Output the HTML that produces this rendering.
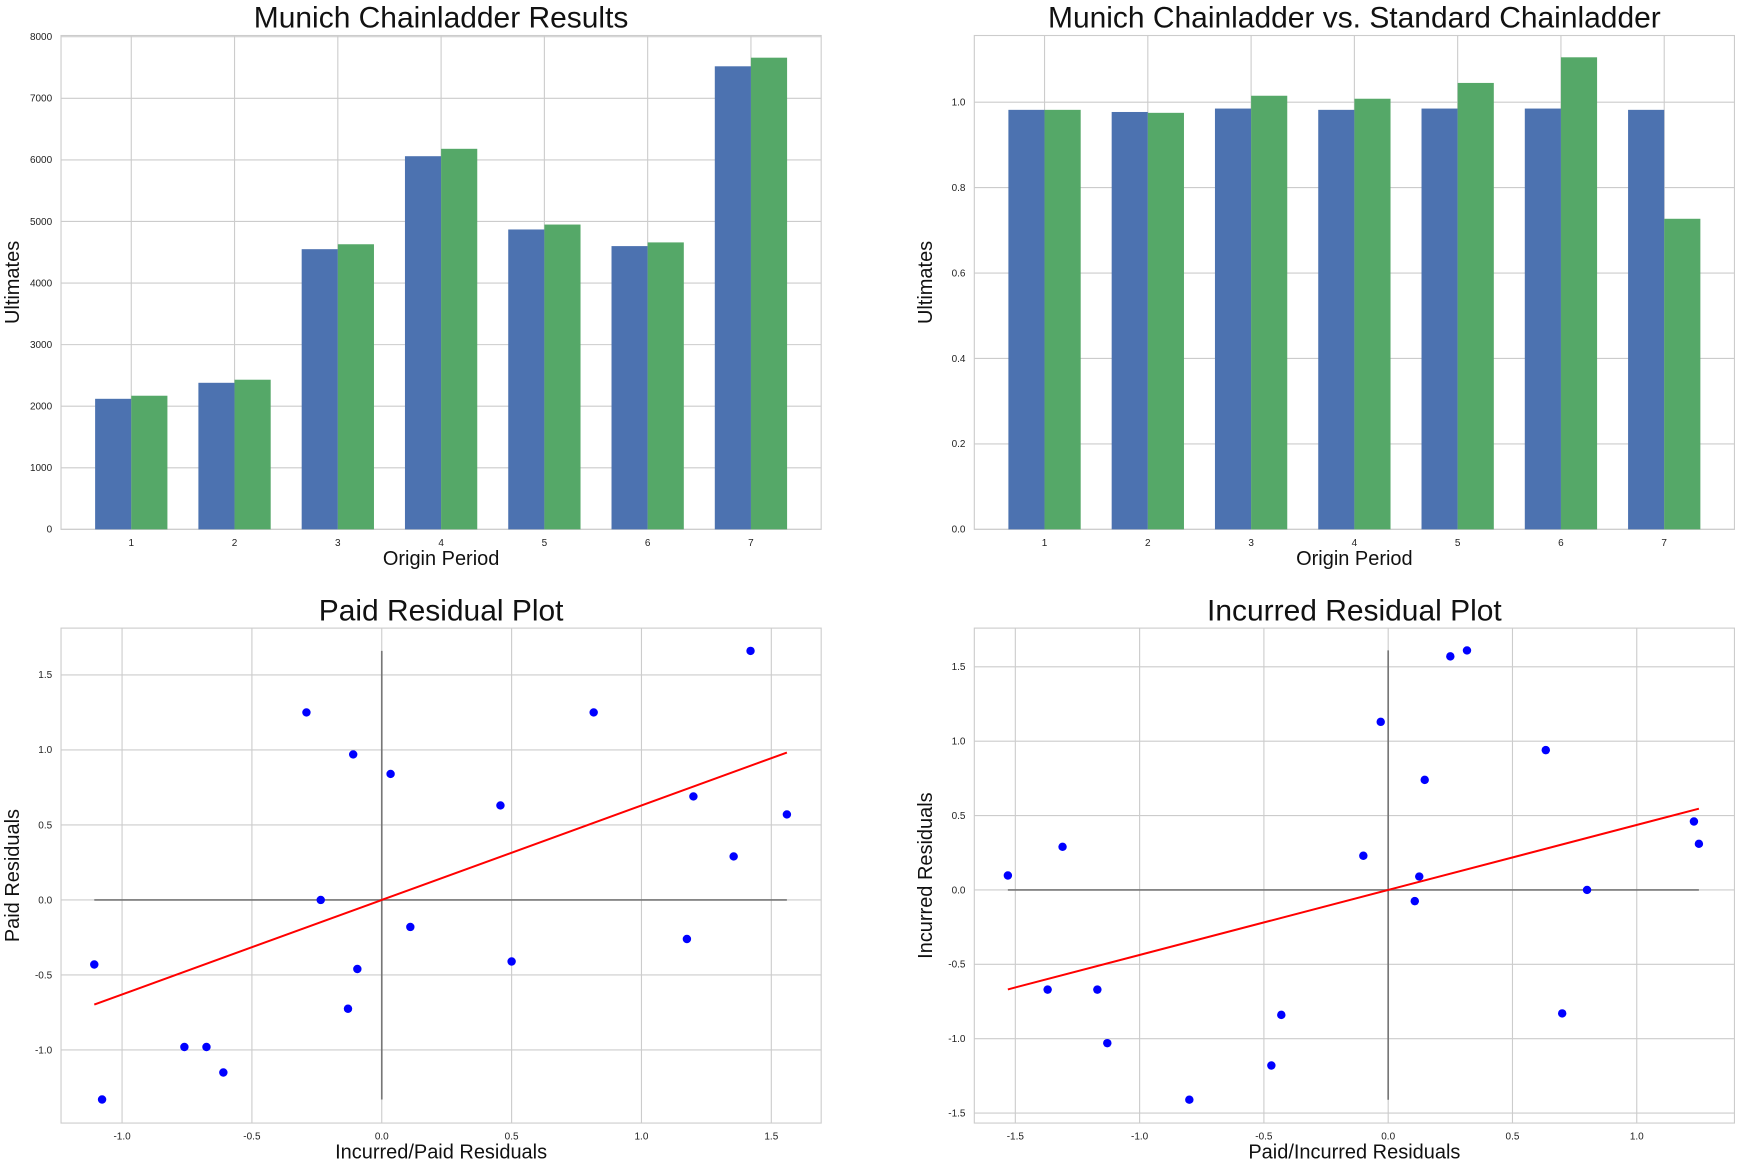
<!DOCTYPE html>
<html><head><meta charset="utf-8"><style>
body{margin:0;background:#fff;}
svg{display:block;font-family:"Liberation Sans",sans-serif;}
</style></head><body>
<svg id="chart" width="1740" height="1168" viewBox="0 0 1568 1052.5" preserveAspectRatio="none"></svg>
<script>
const periods=[1,2,3,4,5,6,7];
const munichUlt=[2120,2380,4550,6060,4870,4600,7520];
const stdUlt=[2170,2430,4630,6180,4950,4660,7660];
const ultTicks=[0,1000,2000,3000,4000,5000,6000,7000,8000];
const munichRatio=[0.982,0.977,0.985,0.982,0.985,0.985,0.982];
const stdRatio=[0.982,0.975,1.015,1.008,1.045,1.105,0.727];
const ratioTicks=[0,0.2,0.4,0.6,0.8,1.0];
const paidX=[-1.107,-1.077,-0.76,-0.675,-0.61,-0.29,-0.235,-0.13,-0.11,-0.094,0.034,0.11,0.457,0.5,0.816,1.175,1.2,1.355,1.42,1.56];
const paidY=[-0.43,-1.33,-0.98,-0.98,-1.15,1.25,0.0,-0.725,0.97,-0.46,0.84,-0.18,0.63,-0.41,1.25,-0.26,0.69,0.29,1.66,0.57];
const paidSlope=0.63;
const paidXTicks=[-1.0,-0.5,0.0,0.5,1.0,1.5];
const paidYTicks=[-1.0,-0.5,0.0,0.5,1.0,1.5];
const incX=[-1.53,-1.37,-1.31,-1.17,-1.13,-0.80,-0.47,-0.43,-0.10,-0.03,0.107,0.125,0.147,0.25,0.317,0.634,0.70,0.80,1.23,1.25];
const incY=[0.097,-0.67,0.29,-0.67,-1.03,-1.41,-1.18,-0.84,0.23,1.13,-0.075,0.09,0.74,1.57,1.61,0.94,-0.83,0.0,0.46,0.31];
const incSlope=0.437;
const incXTicks=[-1.5,-1.0,-0.5,0.0,0.5,1.0];
const incYTicks=[-1.5,-1.0,-0.5,0.0,0.5,1.0,1.5];

const NS="http://www.w3.org/2000/svg";
const svg=document.getElementById('chart');
function el(tag,attrs,parent,text){const e=document.createElementNS(NS,tag);for(const k in attrs)e.setAttribute(k,attrs[k]);if(text!==undefined)e.textContent=text;(parent||svg).appendChild(e);return e;}
function fmt(v,d){return v.toFixed(d);}

function panel(box,xlim,ylim,xticks,yticks,xdec,ydec,title,xl,yl,name){
  const g=el('g',{});
  
  
  const sx=v=>box.x+(v-xlim[0])/(xlim[1]-xlim[0])*box.w;
  const sy=v=>box.y+box.h-(v-ylim[0])/(ylim[1]-ylim[0])*box.h;
  const grid=el('g',{},g);
  
  
  xticks.forEach(t=>{const x=sx(t);el('line',{x1:x,x2:x,y1:box.y,y2:box.y+box.h,stroke:'#cccccc','stroke-width':1},grid);
    const tl=el('text',{x:x,y:box.y+box.h+15,'font-size':9,'text-anchor':'middle',fill:'#222'},g,xdec<0?String(t):fmt(t,xdec));
    });
  yticks.forEach(t=>{const y=sy(t);el('line',{x1:box.x,x2:box.x+box.w,y1:y,y2:y,stroke:'#cccccc','stroke-width':1},grid);
    const tl=el('text',{x:box.x-8,y:y+3,'font-size':9,'text-anchor':'end',fill:'#222'},g,ydec<0?String(t):fmt(t,ydec));
    });
  const fr=el('rect',{x:box.x,y:box.y,width:box.w,height:box.h,fill:'none',stroke:'#cccccc','stroke-width':1},g);
  
  const t=el('text',{x:box.x+box.w/2,y:box.y-7,'font-size':27,'text-anchor':'middle',fill:'#111'},g,title);
  
  const xt=el('text',{x:box.x+box.w/2,y:box.y+box.h+32,'font-size':18,'text-anchor':'middle',fill:'#111'},g,xl);
  
  const cy=box.y+box.h/2;
  const yt=el('text',{x:box.x-38,y:cy,'font-size':18,'text-anchor':'middle',fill:'#111',transform:`rotate(-90 ${box.x-38} ${cy})`},g,yl);
  
  return {g,sx,sy};
}

function bars(p,a,b){
  periods.forEach((per,i)=>{
    const x0=p.sx(per-0.35),xm=p.sx(per),x1=p.sx(per+0.35);
    const r1=el('rect',{x:x0,y:p.sy(a[i]),width:xm-x0,height:p.sy(0)-p.sy(a[i]),fill:'#4C72B0'},p.g);
    
    const r2=el('rect',{x:xm,y:p.sy(b[i]),width:x1-xm,height:p.sy(0)-p.sy(b[i]),fill:'#55A868'},p.g);
    
  });
}
function scatter(p,xs,ys,slope){
  const xmin=Math.min(...xs),xmax=Math.max(...xs),ymin=Math.min(...ys),ymax=Math.max(...ys);
  const h=el('line',{x1:p.sx(xmin),x2:p.sx(xmax),y1:p.sy(0),y2:p.sy(0),stroke:'#777','stroke-width':1.5},p.g);
  
  const v=el('line',{x1:p.sx(0),x2:p.sx(0),y1:p.sy(ymin),y2:p.sy(ymax),stroke:'#777','stroke-width':1.5},p.g);
  
  xs.forEach((x,i)=>{const c=el('circle',{cx:p.sx(x),cy:p.sy(ys[i]),r:3.8,fill:'#0000ff'},p.g);
    });
  const r=el('line',{x1:p.sx(xmin),x2:p.sx(xmax),y1:p.sy(slope*xmin),y2:p.sy(slope*xmax),stroke:'#ff0000','stroke-width':1.8},p.g);
  
}

const p1=panel({x:55,y:32,w:685,h:445},[0.32,7.68],[0,8020],periods,ultTicks,-1,-1,'Munich Chainladder Results','Origin Period','Ultimates','ultimates-panel');
bars(p1,munichUlt,stdUlt);
const p2=panel({x:878,y:32,w:685,h:445},[0.32,7.68],[0,1.156],periods,ratioTicks,-1,1,'Munich Chainladder vs. Standard Chainladder','Origin Period','Ultimates','ratio-panel');
bars(p2,munichRatio,stdRatio);
const p3=panel({x:55,y:566,w:685,h:446},[-1.235,1.692],[-1.487,1.812],paidXTicks,paidYTicks,1,1,'Paid Residual Plot','Incurred/Paid Residuals','Paid Residuals','paid-residual-panel');
scatter(p3,paidX,paidY,paidSlope);
const p4=panel({x:878,y:566,w:685,h:446},[-1.665,1.393],[-1.567,1.76],incXTicks,incYTicks,1,1,'Incurred Residual Plot','Paid/Incurred Residuals','Incurred Residuals','incurred-residual-panel');
scatter(p4,incX,incY,incSlope);
</script>
</body></html>
